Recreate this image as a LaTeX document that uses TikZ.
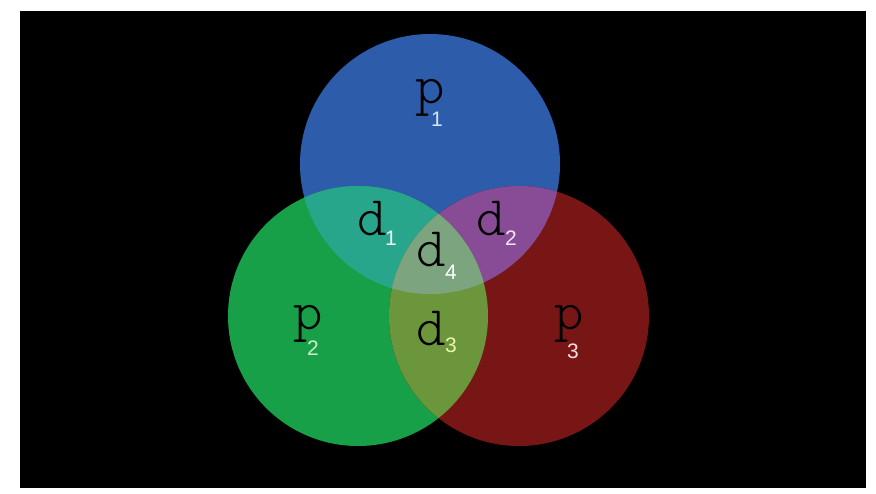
\documentclass[tikz,border=0pt]{standalone}
\usepackage{fontspec}
\setmainfont{Liberation Sans}
\newfontfamily\lightmono{Latin Modern Mono Light}
\begin{document}
\definecolor{cblue}{RGB}{44,92,170}
\definecolor{cgreen}{RGB}{24,160,72}
\definecolor{cred}{RGB}{120,22,22}
\definecolor{cteal}{RGB}{40,166,140}
\definecolor{cpurple}{RGB}{136,76,150}
\definecolor{colive}{RGB}{108,150,60}
\definecolor{ccore}{RGB}{124,164,126}
\tikzset{
  letter/.style={font=\lightmono\fontsize{56}{56}\selectfont, text=black, inner sep=0pt, anchor=base},
  subnum/.style={font=\rmfamily\fontsize{21}{21}\selectfont, inner sep=0pt, anchor=center},
}
\begin{tikzpicture}[x=1pt,y=-1pt]
  \useasboundingbox (0,0) rectangle (876,493);
  \fill[white] (0,0) rectangle (876,493);
  \fill[black] (20,11) rectangle (866,488);
  % the three sets
  \def\cB{(430,164) circle[radius=130pt]}
  \def\cG{(358,316) circle[radius=130pt]}
  \def\cR{(519,316) circle[radius=130pt]}
  \fill[cblue] \cB;
  \fill[cgreen] \cG;
  \fill[cred] \cR;
  % pairwise overlaps
  \begin{scope}\clip \cB; \fill[cteal] \cG; \end{scope}
  \begin{scope}\clip \cB; \fill[cpurple] \cR; \end{scope}
  \begin{scope}\clip \cG; \fill[colive] \cR; \end{scope}
  % common part of all three
  \begin{scope}\clip \cB; \clip \cG; \fill[ccore] \cR; \end{scope}
  % labels
  \node[letter] (p1) at (430,103) {p};
  \node[subnum, text={rgb,255:red,216;green,228;blue,244}] (p1s) at (437,119) {1};
  \node[letter] (p2) at (308,329) {p};
  \node[subnum, text={rgb,255:red,200;green,240;blue,200}] (p2s) at (313,348) {2};
  \node[letter] (p3) at (569,329) {p};
  \node[subnum, text={rgb,255:red,244;green,222;blue,222}] (p3s) at (573,351) {3};
  \node[letter] (d1) at (372,235) {d};
  \node[subnum, text={rgb,255:red,236;green,250;blue,244}] (d1s) at (391,238) {1};
  \node[letter] (d2) at (491,235) {d};
  \node[subnum, text={rgb,255:red,246;green,228;blue,246}] (d2s) at (511,238) {2};
  \node[letter] (d4) at (431,266) {d};
  \node[subnum, text=white] (d4s) at (451,272) {4};
  \node[letter] (d3) at (431,345) {d};
  \node[subnum, text={rgb,255:red,236;green,244;blue,170}] (d3s) at (451,345) {3};
\end{tikzpicture}
\end{document}
